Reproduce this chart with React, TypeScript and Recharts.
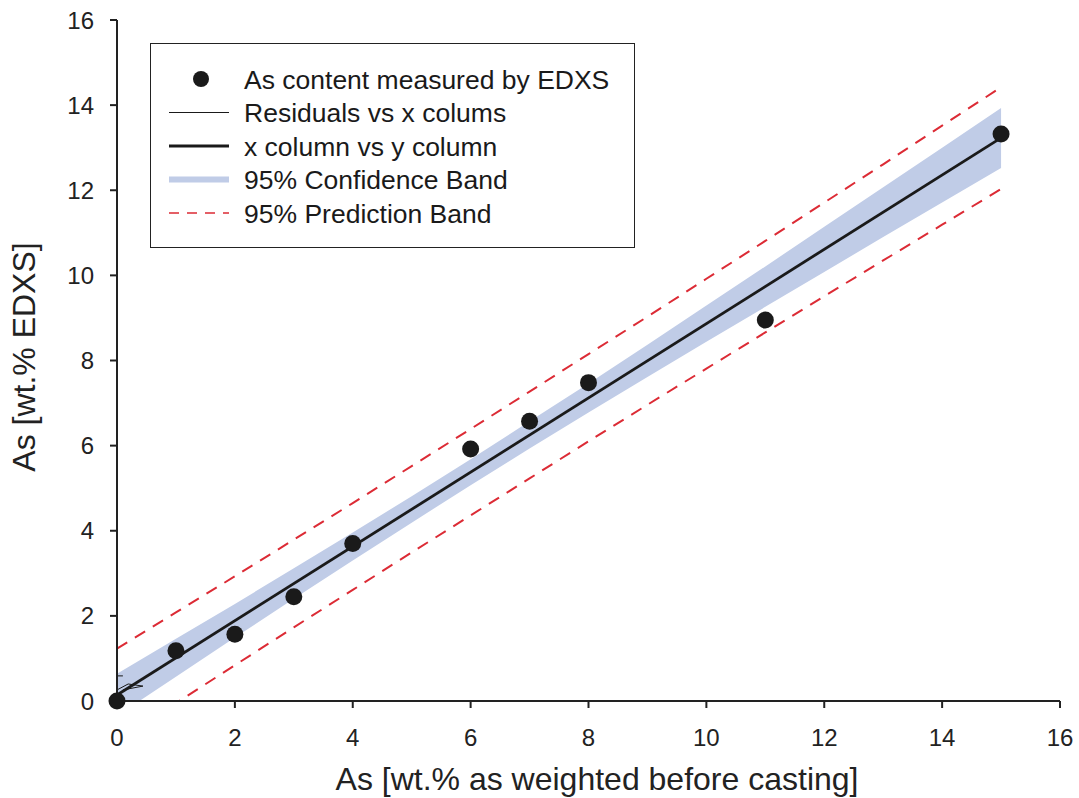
import React from 'react';
import { ComposedChart, XAxis, YAxis, Line, Area, Scatter, Legend } from 'recharts';

const FONT = "'Liberation Sans', Arial, Helvetica, sans-serif";

// Measured points
const measuredX = [0, 1, 2, 3, 4, 6, 7, 8, 11, 15];
const measuredY = [0, 1.18, 1.57, 2.45, 3.7, 5.92, 6.57, 7.48, 8.95, 13.32];

// Regression line end points
const fitX = [0, 15];
const fitY = [0.14, 13.23];

// Bands
const bandX = [0, 1, 2, 3, 4, 5, 6, 7, 8, 9, 10, 11, 12, 13, 14, 15];
const confLower = [-0.35, 0.57, 1.49, 2.4, 3.3, 4.19, 5.07, 5.93, 6.78, 7.61, 8.44, 9.26, 10.08, 10.9, 11.71, 12.52];
const confUpper = [0.64, 1.46, 2.28, 3.12, 3.96, 4.81, 5.68, 6.57, 7.46, 8.37, 9.29, 10.21, 11.14, 12.07, 13.0, 13.93];
const predLower = [-0.94, -0.05, 0.84, 1.73, 2.61, 3.49, 4.36, 5.23, 6.1, 6.96, 7.81, 8.66, 9.51, 10.35, 11.19, 12.03];
const predUpper = [1.23, 2.08, 2.93, 3.79, 4.65, 5.52, 6.39, 7.27, 8.15, 9.03, 9.92, 10.81, 11.71, 12.61, 13.52, 14.42];

// Residual trace near the origin
const residX = [0, 0.1, 0.1, 0, 0.19, 0.44, 0.1];
const residY: (number | null)[] = [0.59, 0.59, null, 0.26, 0.4, 0.35, 0.26];

const axisTicks = [0, 2, 4, 6, 8, 10, 12, 14, 16];

const legendLabels = [
  'As content measured by EDXS',
  'Residuals vs x colums',
  'x column vs y column',
  '95% Confidence Band',
  '95% Prediction Band',
];

const BAND_FILL = '#c0cce7';
const RED = '#dc2b35';
const INK = '#1a1a1a';

const measured = measuredX.map((x, i) => ({ x, y: measuredY[i] }));
const fit = fitX.map((x, i) => ({ x, y: fitY[i] }));
const conf = bandX.map((x, i) => ({ x, band: [confLower[i], confUpper[i]] }));
const predU = bandX.map((x, i) => ({ x, y: predUpper[i] }));
const predL = bandX.map((x, i) => ({ x, y: predLower[i] }));
const resid = residX.map((x, i) => ({ x, y: residY[i] }));

const Dot = (props: any) => {
  const { cx, cy } = props;
  if (cx == null || cy == null) return null;
  return <circle cx={cx} cy={cy} r={8.5} fill={INK} />;
};

const LegendBox = () => {
  const rowY = [35, 68.5, 102, 135.5, 169];
  return (
    <div
      style={{
        width: 485,
        height: 205,
        border: '1.5px solid #222',
        boxSizing: 'border-box',
        background: '#fff',
      }}
    >
      <svg width={482} height={202} style={{ display: 'block' }}>
        <circle cx={50} cy={rowY[0]} r={8} fill={INK} />
        <line x1={18} x2={78} y1={rowY[1]} y2={rowY[1]} stroke={INK} strokeWidth={1} />
        <line x1={18} x2={78} y1={rowY[2]} y2={rowY[2]} stroke={INK} strokeWidth={3} />
        <line x1={18} x2={78} y1={rowY[3]} y2={rowY[3]} stroke={BAND_FILL} strokeWidth={6} />
        <line x1={18} x2={78} y1={rowY[4]} y2={rowY[4]} stroke={RED} strokeWidth={1.5} strokeDasharray="10 8" />
        {legendLabels.map((t, i) => (
          <text
            key={t}
            x={93}
            y={rowY[i]}
            dy="0.36em"
            fontSize={26.5}
            fontFamily={FONT}
            fill={INK}
          >
            {t}
          </text>
        ))}
      </svg>
    </div>
  );
};

const tickStyle = { fontSize: 24, fill: '#222', fontFamily: FONT };
const axisLineStyle = { stroke: '#222', strokeWidth: 2 };

export default function App() {
  return (
    <div style={{ position: 'absolute', left: 0, top: 0, width: 1079, height: 798, background: '#fff' }}>
      <ComposedChart width={1079} height={798} margin={{ top: 20, right: 19, left: 0, bottom: 0 }}>
        <XAxis
          xAxisId="main"
          dataKey="x"
          type="number"
          domain={[0, 16]}
          ticks={axisTicks}
          height={97}
          tickSize={7}
          tickMargin={21}
          tick={tickStyle}
          tickLine={{ stroke: '#222', strokeWidth: 2 }}
          axisLine={axisLineStyle}
          label={{
            content: () => (
              <text x={597} y={790} textAnchor="middle" fontSize={32} fontFamily={FONT} fill="#222">
                As [wt.% as weighted before casting]
              </text>
            ),
          }}
        />
        <XAxis
          xAxisId="top"
          orientation="top"
          type="number"
          dataKey="x"
          domain={[0, 16]}
          height={0}
          tick={false}
          tickLine={false}
          axisLine={axisLineStyle}
        />
        <YAxis
          yAxisId="main"
          type="number"
          domain={[0, 16]}
          ticks={axisTicks}
          allowDataOverflow
          width={117}
          tickSize={7}
          tickMargin={16}
          tick={tickStyle}
          tickLine={{ stroke: '#222', strokeWidth: 2 }}
          axisLine={axisLineStyle}
          label={{
            content: () => (
              <text
                x={35}
                y={357}
                transform="rotate(-90, 35, 357)"
                textAnchor="middle"
                fontSize={32}
                fontFamily={FONT}
                fill="#222"
              >
                As [wt.% EDXS]
              </text>
            ),
          }}
        />
        <YAxis
          yAxisId="right"
          orientation="right"
          type="number"
          domain={[0, 16]}
          width={0}
          tick={false}
          tickLine={false}
          axisLine={axisLineStyle}
        />
        <YAxis yAxisId="pts" type="number" domain={[0, 16]} hide />

        <Area
          xAxisId="main"
          yAxisId="main"
          data={conf}
          dataKey="band"
          type="linear"
          stroke="none"
          fill={BAND_FILL}
          fillOpacity={1}
          isAnimationActive={false}
          activeDot={false}
        />
        <Line
          xAxisId="main"
          yAxisId="main"
          data={predU}
          dataKey="y"
          type="linear"
          stroke={RED}
          strokeWidth={2}
          strokeDasharray="12 9"
          dot={false}
          activeDot={false}
          isAnimationActive={false}
        />
        <Line
          xAxisId="main"
          yAxisId="main"
          data={predL}
          dataKey="y"
          type="linear"
          stroke={RED}
          strokeWidth={2}
          strokeDasharray="12 9"
          dot={false}
          activeDot={false}
          isAnimationActive={false}
        />
        <Line
          xAxisId="main"
          yAxisId="main"
          data={fit}
          dataKey="y"
          type="linear"
          stroke={INK}
          strokeWidth={2.8}
          dot={false}
          activeDot={false}
          isAnimationActive={false}
        />
        <Line
          xAxisId="main"
          yAxisId="main"
          data={resid}
          dataKey="y"
          type="linear"
          stroke={INK}
          strokeWidth={1}
          dot={false}
          activeDot={false}
          connectNulls={false}
          isAnimationActive={false}
        />
        <Scatter
          xAxisId="main"
          yAxisId="pts"
          data={measured}
          dataKey="y"
          fill={INK}
          shape={<Dot />}
          isAnimationActive={false}
        />
        <Legend
          layout="vertical"
          verticalAlign="middle"
          align="center"
          content={() => <LegendBox />}
          wrapperStyle={{ left: 150, top: 43, width: 485, height: 205 }}
        />
      </ComposedChart>
    </div>
  );
}
